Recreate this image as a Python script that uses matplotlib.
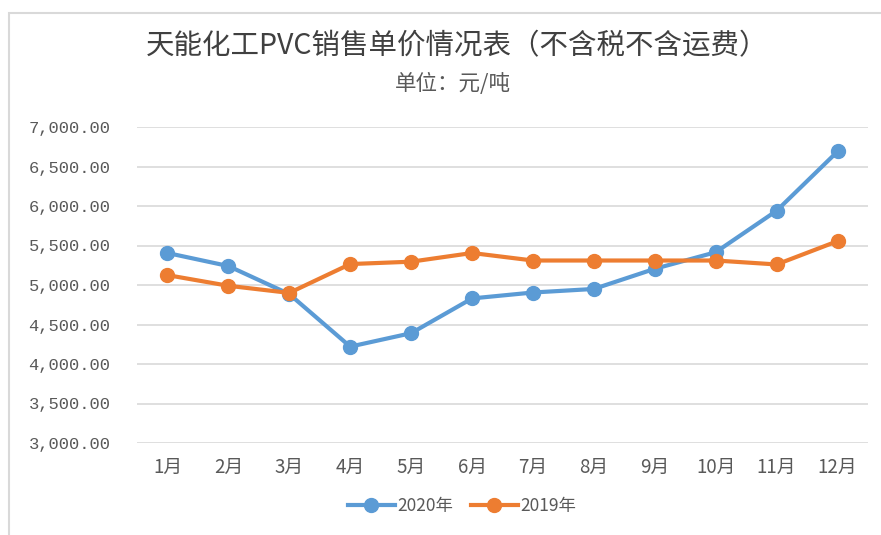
import numpy as np
import matplotlib
matplotlib.use('Agg')
import matplotlib.pyplot as plt
from matplotlib.patches import Rectangle
from matplotlib.ticker import FuncFormatter

plt.rcParams['font.family'] = ['Noto Sans CJK SC', 'DejaVu Sans']

# data
months = ['1月', '2月', '3月', '4月', '5月', '6月', '7月', '8月', '9月', '10月', '11月', '12月']
price_2020 = [5405, 5240, 4885, 4220, 4390, 4830, 4905, 4950, 5205, 5415, 5940, 6690]
price_2019 = [5125, 4990, 4900, 5265, 5295, 5405, 5310, 5310, 5310, 5310, 5260, 5555]
yticks = [3000, 3500, 4000, 4500, 5000, 5500, 6000, 6500, 7000]

blue = '#5B9BD5'
orange = '#ED7D31'
txt = '#595959'

fig = plt.figure(figsize=(8.81, 5.35), dpi=100)
W, H = 881, 535

# outer chart frame
fig.patches.append(Rectangle((8.5/W, -0.05), 1.2, 1 - 12.5/H + 0.05, transform=fig.transFigure,
                             fill=False, edgecolor='#D9D9D9', linewidth=1.5))

ax = fig.add_axes([137/W, 1 - 443/H, (868 - 137)/W, (443 - 127)/H])
x = np.arange(len(months))
l1, = ax.plot(x, price_2020, color=blue, lw=3, marker='o', ms=10, label='2020年', zorder=3)
l2, = ax.plot(x, price_2019, color=orange, lw=3, marker='o', ms=10, label='2019年', zorder=3)

ax.set_xlim(-0.5, 11.5)
ax.set_ylim(3000, 7000)
ax.set_yticks(yticks)
ax.yaxis.set_major_formatter(FuncFormatter(lambda v, p: '{:,.2f}'.format(v)))
ax.set_xticks(x)
ax.set_xticklabels(months, fontsize=13.5, color=txt)
for t in ax.get_yticklabels():
    t.set_fontfamily('Liberation Mono')
    t.set_fontsize(12.3)
    t.set_color(txt)
ax.tick_params(axis='y', length=0, pad=19)
ax.tick_params(axis='x', length=0, pad=10)
ax.grid(axis='y', color='#D9D9D9', linewidth=1.2)
ax.set_axisbelow(True)
for s in ax.spines.values():
    s.set_visible(False)

fig.text(457/W, 1 - 46/H, '天能化工PVC销售单价情况表（不含税不含运费）', ha='center', va='center',
         fontsize=20.5, color='#404040')
fig.text(453/W, 1 - 84/H, '单位：元/吨', ha='center', va='center', fontsize=15.5, color=txt)

fig.legend(handles=[l1, l2], loc='center', bbox_to_anchor=(462/W, 1 - 506/H), ncol=2,
           frameon=False, fontsize=12.5, handlelength=2.7, handletextpad=0.15,
           columnspacing=1.0, labelcolor=txt)

fig.savefig('out.png', dpi=100)
